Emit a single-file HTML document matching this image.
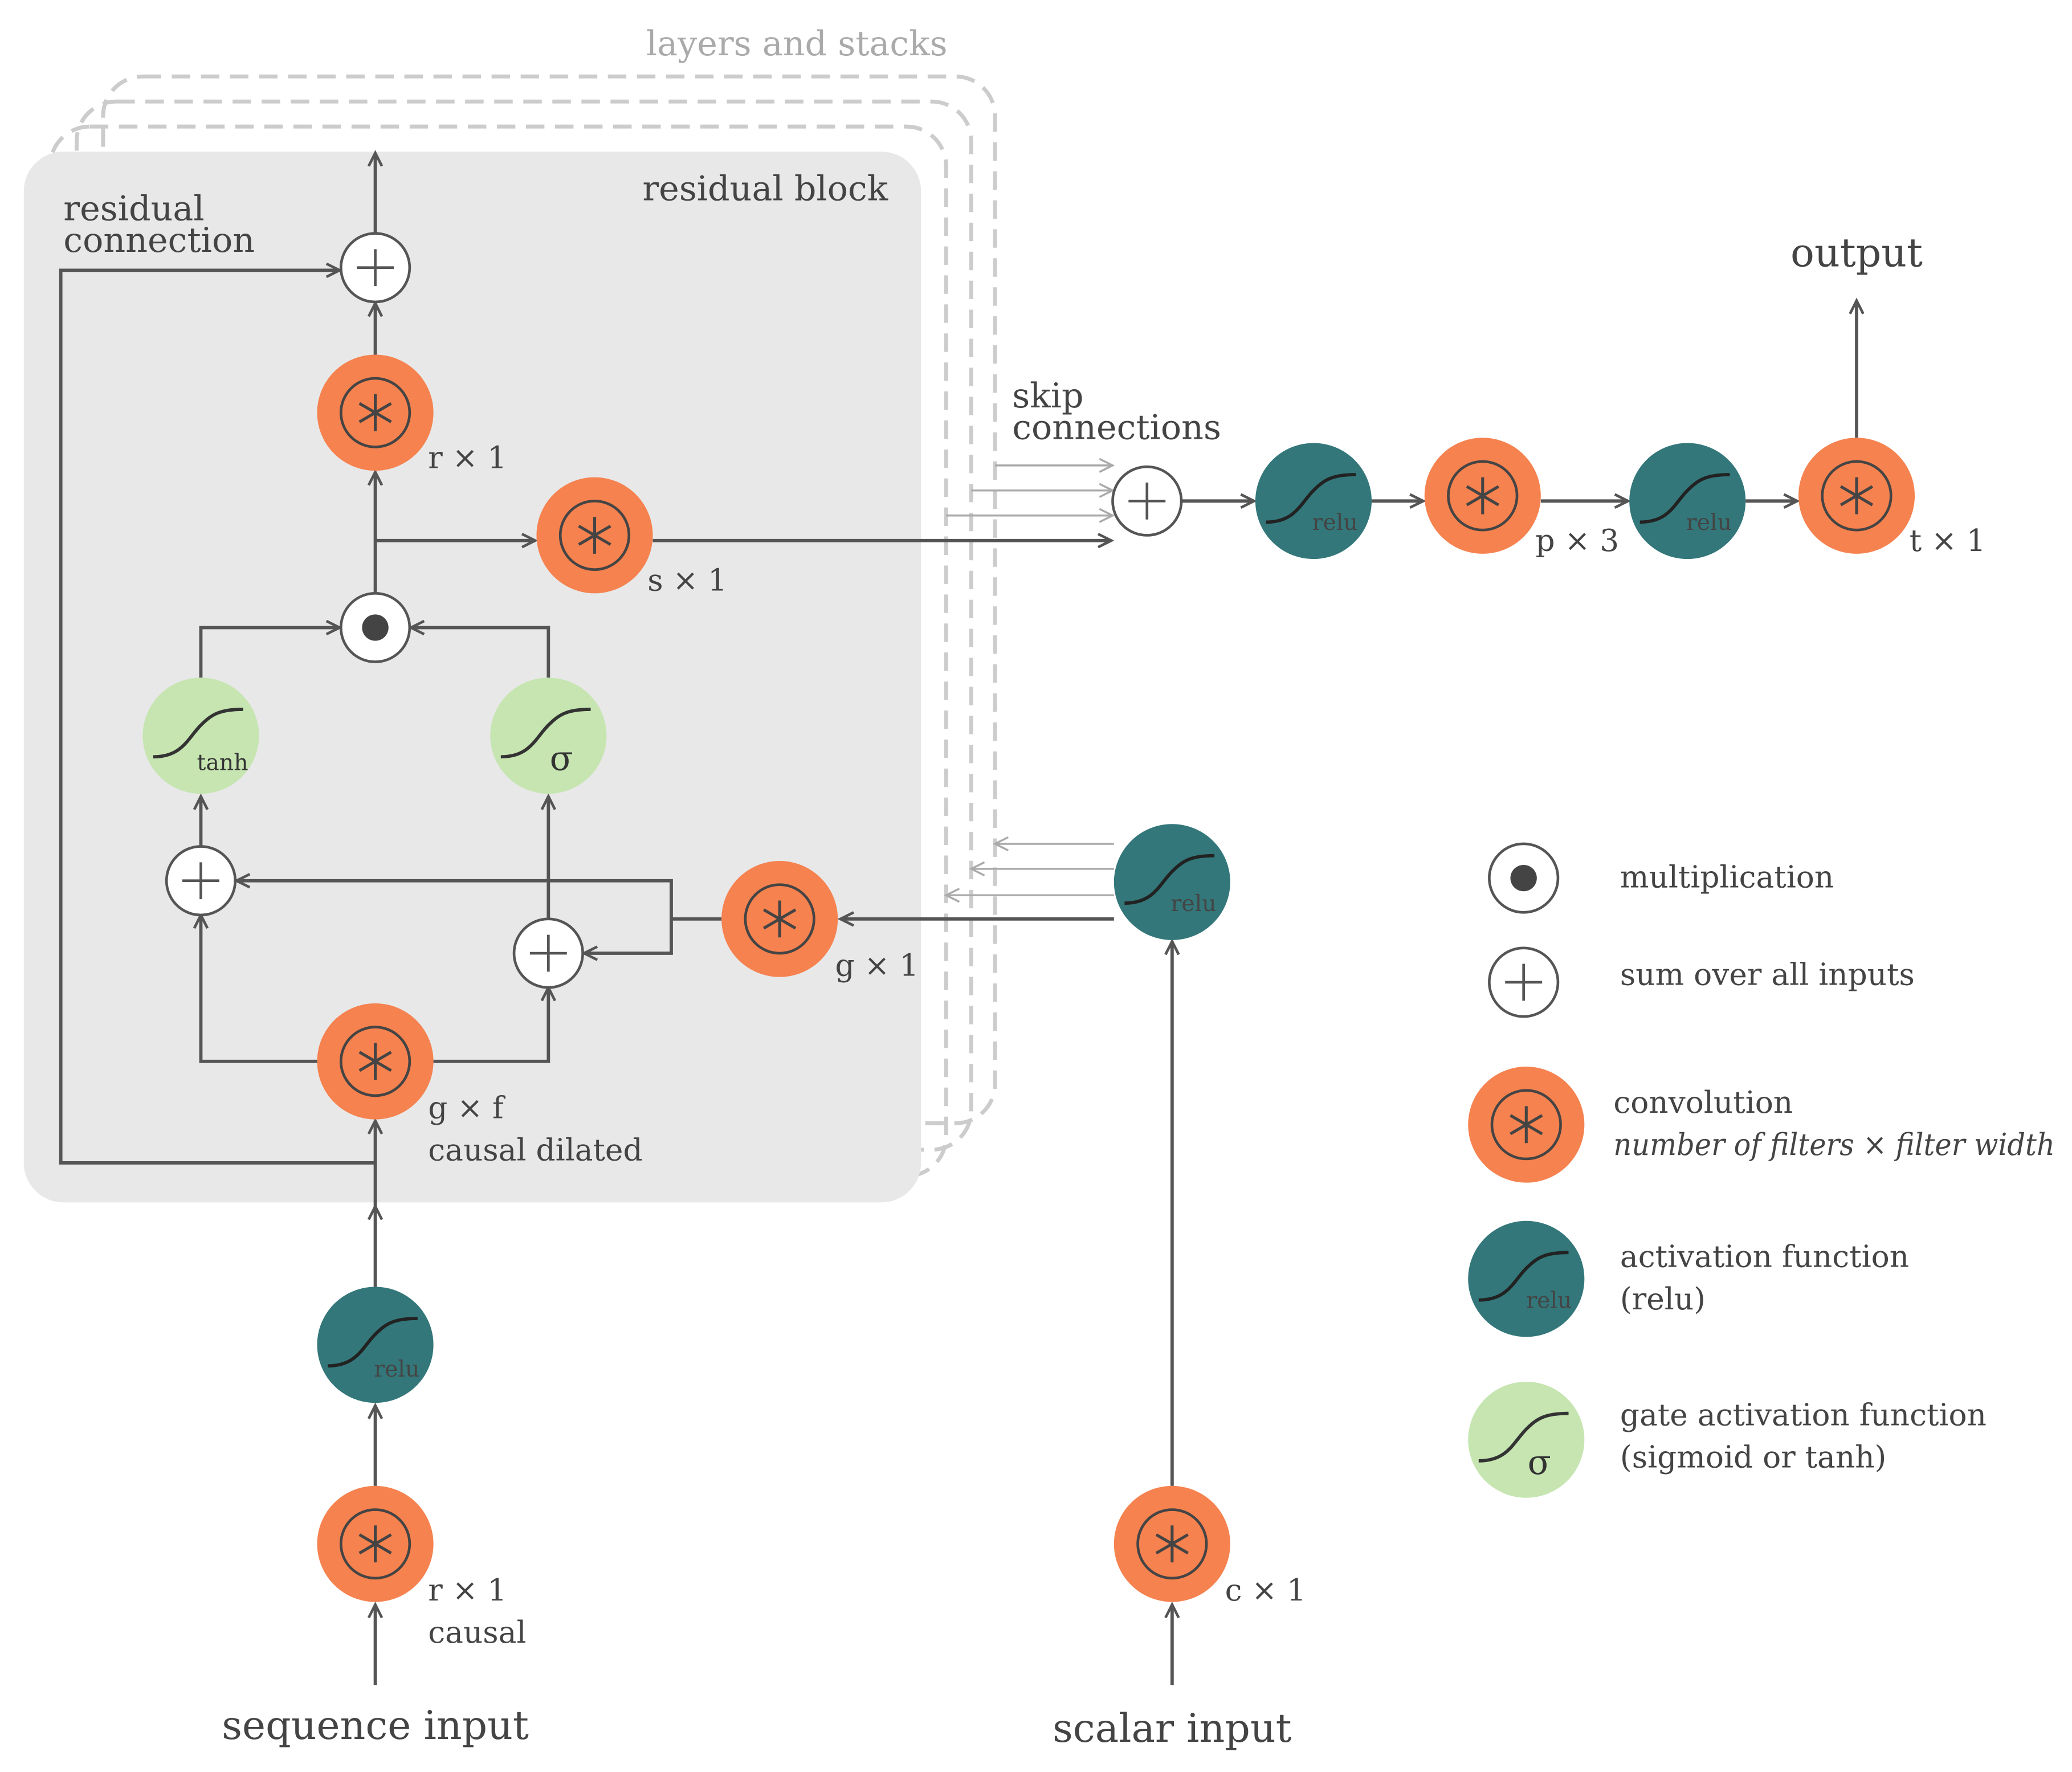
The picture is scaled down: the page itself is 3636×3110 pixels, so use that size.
<!DOCTYPE html>
<html><head><meta charset="utf-8"><style>
html,body{margin:0;padding:0;background:#fff}
svg{display:block}
text{font-family:"DejaVu Serif","Liberation Serif",serif;fill:#444}
</style></head><body>
<svg width="3636" height="3110" viewBox="0 0 1568 1344" preserveAspectRatio="none" xmlns="http://www.w3.org/2000/svg">
<defs>
<marker id="a" markerWidth="14" markerHeight="14" refX="11" refY="6" orient="auto" markerUnits="userSpaceOnUse"><path d="M1,1 L11,6 L1,11" fill="none" stroke="#555" stroke-width="2"/></marker>
<marker id="g" markerWidth="14" markerHeight="14" refX="11" refY="6" orient="auto" markerUnits="userSpaceOnUse"><path d="M1,1 L11,6 L1,11" fill="none" stroke="#aaa" stroke-width="1.5"/></marker>
<g id="conv"><circle r="44" fill="#f5824f"/><circle r="26" fill="none" stroke="#444" stroke-width="2"/><path d="M0,-14 V14 M-12,-7 L12,7 M-12,7 L12,-7" stroke="#444" stroke-width="2.2"/></g>
<g id="relu"><circle r="44" fill="#33777a"/><path d="M-36,16 C-14,16 -10,2 0,-8 C8,-16 14,-20 32,-20" fill="none" stroke="#222" stroke-width="2.5"/></g>
<g id="gate"><circle r="44" fill="#c6e5b1"/><path d="M-36,16 C-14,16 -10,2 0,-8 C8,-16 14,-20 32,-20" fill="none" stroke="#333" stroke-width="2.5"/></g>
<g id="plus"><circle r="26" fill="#fff" stroke="#555" stroke-width="2"/><path d="M-14,0 H14 M0,-14 V14" stroke="#555" stroke-width="2"/></g>
<g id="dot"><circle r="26" fill="#fff" stroke="#555" stroke-width="2"/><circle r="10" fill="#444"/></g>
</defs>
<g fill="none" stroke="#ccc" stroke-width="3" stroke-dasharray="14,8">
<rect x="78" y="58" width="675" height="794" rx="30"/>
<rect x="58" y="77" width="677" height="795" rx="30"/>
<rect x="38" y="96" width="678" height="796" rx="30"/>
</g>
<rect x="18" y="115" width="679" height="797" rx="30" fill="#e8e8e8"/>
<text x="603" y="42" font-size="26" text-anchor="middle" style="fill:#aaa">layers and stacks</text>
<text x="672" y="152" font-size="26" text-anchor="end">residual block</text>
<text x="48" y="167" font-size="26">residual</text>
<text x="48" y="191" font-size="26">connection</text>
<text x="766" y="309" font-size="26">skip</text>
<text x="766" y="333" font-size="26">connections</text>
<text x="1405" y="202" font-size="30" text-anchor="middle">output</text>
<text x="284" y="1319" font-size="30" text-anchor="middle">sequence input</text>
<text x="887" y="1321" font-size="30" text-anchor="middle">scalar input</text>
<g stroke="#aaa" stroke-width="1.5" fill="none">
<path d="M753,353 H842" marker-end="url(#g)"/><path d="M735,372 H842" marker-end="url(#g)"/><path d="M716,391 H842" marker-end="url(#g)"/>
<path d="M843,640 H753" marker-end="url(#g)"/><path d="M843,659 H735" marker-end="url(#g)"/><path d="M843,679 H716" marker-end="url(#g)"/>
</g>
<g stroke="#555" stroke-width="2.5" fill="none">
<path d="M284,1278 V1217" marker-end="url(#a)"/>
<path d="M284,1127 V1066" marker-end="url(#a)"/>
<path d="M284,976 V915" marker-end="url(#a)"/>
<path d="M284,915 V850" marker-end="url(#a)"/>
<path d="M284,882 H46 V205 H257" marker-end="url(#a)"/>
<path d="M240,805 H152 V694" marker-end="url(#a)"/>
<path d="M328,805 H415 V749" marker-end="url(#a)"/>
<path d="M152,642 V604" marker-end="url(#a)"/>
<path d="M415,697 V604" marker-end="url(#a)"/>
<path d="M546,697 H508 V668 H179" marker-end="url(#a)"/>
<path d="M508,697 V723 H442" marker-end="url(#a)"/>
<path d="M843,697 H636" marker-end="url(#a)"/>
<path d="M152,514 V476 H257" marker-end="url(#a)"/>
<path d="M415,514 V476 H311" marker-end="url(#a)"/>
<path d="M284,450 V358" marker-end="url(#a)"/>
<path d="M284,410 H405" marker-end="url(#a)"/>
<path d="M284,269 V230" marker-end="url(#a)"/>
<path d="M284,177 V116" marker-end="url(#a)"/>
<path d="M494,410 H841" marker-end="url(#a)"/>
<path d="M894,380 H949" marker-end="url(#a)"/>
<path d="M1038,380 H1077" marker-end="url(#a)"/>
<path d="M1166,380 H1232" marker-end="url(#a)"/>
<path d="M1321,380 H1360" marker-end="url(#a)"/>
<path d="M1405,332 V228" marker-end="url(#a)"/>
<path d="M887,1278 V1217" marker-end="url(#a)"/>
<path d="M887,1127 V714" marker-end="url(#a)"/>
</g>
<use href="#conv" x="284" y="313"/><use href="#conv" x="450" y="406"/><use href="#conv" x="284" y="805"/>
<use href="#conv" x="590" y="697"/><use href="#conv" x="284" y="1171"/><use href="#conv" x="887" y="1171"/>
<use href="#conv" x="1122" y="376"/><use href="#conv" x="1405" y="376"/><use href="#conv" x="1155" y="853"/>
<use href="#relu" x="284" y="1020"/><use href="#relu" x="887" y="669"/><use href="#relu" x="994" y="380"/>
<use href="#relu" x="1277" y="380"/><use href="#relu" x="1155" y="970"/>
<use href="#gate" x="152" y="558"/><use href="#gate" x="415" y="558"/><use href="#gate" x="1155" y="1092"/>
<use href="#plus" x="284" y="203"/><use href="#dot" x="284" y="476"/><use href="#plus" x="152" y="668"/>
<use href="#plus" x="415" y="723"/><use href="#plus" x="868" y="380"/><use href="#dot" x="1153" y="666"/><use href="#plus" x="1153" y="745"/>
<g font-size="17" style="fill:#1f5557">
<text x="283" y="1044">relu</text><text x="886" y="691">relu</text><text x="993" y="402">relu</text>
<text x="1276" y="402">relu</text><text x="1155" y="992">relu</text>
</g>
<text x="149" y="584" font-size="17" style="fill:#333">tanh</text>
<text x="416" y="584" font-size="26" style="fill:#333">σ</text>
<text x="1156" y="1118" font-size="26" style="fill:#333">σ</text>
<g font-size="23">
<text x="324" y="355">r × 1</text>
<text x="490" y="448">s × 1</text>
<text x="324" y="848">g × f</text>
<text x="324" y="880">causal dilated</text>
<text x="632" y="740">g × 1</text>
<text x="324" y="1214">r × 1</text>
<text x="324" y="1246">causal</text>
<text x="927" y="1214">c × 1</text>
<text x="1162" y="418">p × 3</text>
<text x="1445" y="418">t × 1</text>
<text x="1226" y="673">multiplication</text>
<text x="1226" y="747">sum over all inputs</text>
<text x="1221" y="844">convolution</text>
<text x="1221" y="876" font-style="italic" textLength="334" lengthAdjust="spacingAndGlyphs">number of filters × filter width</text>
<text x="1226" y="961">activation function</text>
<text x="1226" y="993">(relu)</text>
<text x="1226" y="1081">gate activation function</text>
<text x="1226" y="1113">(sigmoid or tanh)</text>
</g>
</svg>
</body></html>
